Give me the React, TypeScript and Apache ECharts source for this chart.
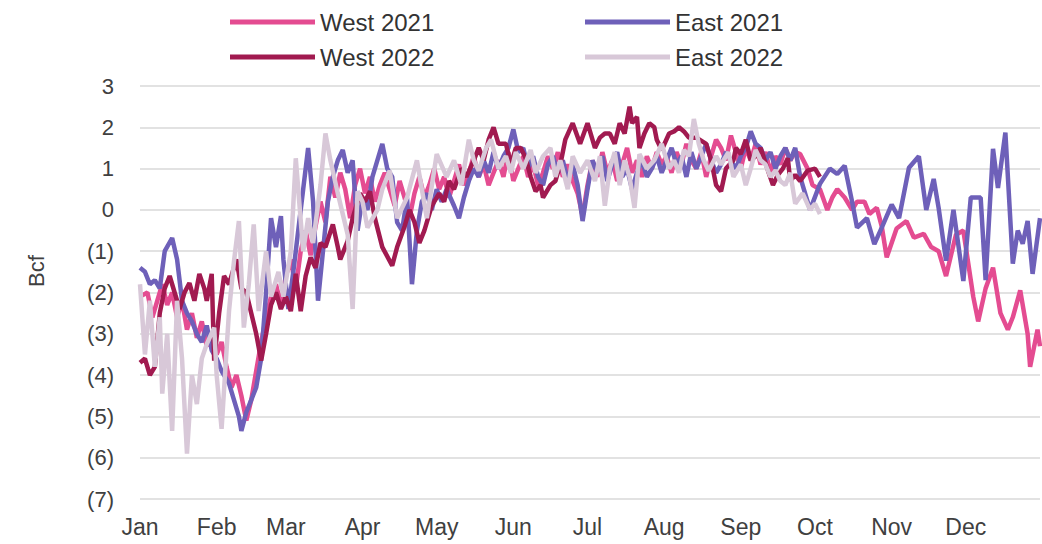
import React, { useEffect, useRef } from "react";
import * as echarts from "echarts";

const monthLabels = ["Jan", "Feb", "Mar", "Apr", "May", "Jun", "Jul", "Aug", "Sep", "Oct", "Nov", "Dec"];
const monthStarts = [0, 31, 59, 90, 120, 151, 181, 212, 243, 273, 304, 334];
const yTicks = [3, 2, 1, 0, -1, -2, -3, -4, -5, -6, -7];

// [day of year, Bcf]
const west2021: [number, number][] = [
  [0,-2.1],[3,-2.0],[5,-2.6],[7,-2.2],[9,-1.8],[11,-2.3],[13,-2.0],[15,-2.6],[17,-2.2],[19,-2.9],[21,-2.5],[23,-3.1],[25,-2.7],[27,-3.3],[29,-3.0],[31,-3.5],[33,-3.2],[35,-3.8],[37,-4.3],[39,-4.0],[41,-4.5],[43,-5.1],[45,-4.6],[47,-3.9],[49,-3.2],[51,-2.6],[53,-2.1],[55,-1.8],[57,-2.3],[59,-1.6],[61,-1.2],[63,-1.9],[65,-1.0],[67,-0.5],[69,-1.1],[71,-0.4],[73,0.2],[75,-0.3],[77,0.8],[79,0.3],[81,0.9],[83,0.5],[85,-0.2],[87,0.6],[89,1.0],[91,0.4],[93,0.8],[95,0.2],[97,0.6],[99,0.9],[101,0.5],[103,0.1],[105,0.7],[107,0.3],[109,-0.2],[111,0.4],[113,0.8],[115,0.3],[117,0.6],[119,1.0],[121,0.5],[123,0.8],[125,0.3],[127,0.7],[129,1.1],[131,0.6],[133,0.9],[135,1.3],[137,0.8],[139,1.1],[141,0.6],[143,0.9],[145,1.2],[147,0.8],[149,1.4],[151,0.7],[153,1.0],[155,1.3],[157,0.8],[159,1.1],[161,0.6],[163,0.9],[165,1.3],[167,1.0],[169,1.4],[171,0.8],[173,1.1],[175,0.7],[177,0.4],[179,-0.15],[181,0.6],[183,1.2],[185,0.8],[187,1.4],[189,0.9],[191,1.2],[193,0.7],[195,1.1],[197,1.5],[199,0.9],[201,1.2],[203,0.8],[205,1.3],[207,1.0],[209,1.4],[211,1.1],[213,1.3],[215,0.9],[217,1.4],[219,1.1],[221,1.6],[223,1.2],[225,1.0],[227,1.4],[229,0.8],[231,1.3],[233,1.7],[235,1.5],[237,1.2],[239,1.8],[241,1.4],[243,1.0],[245,1.5],[247,1.2],[249,1.6],[251,1.1],[253,1.4],[255,0.9],[257,1.3],[259,1.1],[261,1.5],[263,1.2],[265,1.4],[267,1.35],[270,1.0],[272,0.6],[275,0.5],[278,0],[280,0.3],[282,0.5],[285,0.3],[288,0],[290,0.2],[293,0.2],[295,-0.1],[298,0.05],[300,-0.4],[302,-1.15],[306,-0.45],[310,-0.27],[313,-0.67],[317,-0.58],[320,-0.9],[323,-1.0],[326,-1.6],[330,-0.6],[333,-0.5],[337,-2.1],[339,-2.7],[342,-1.9],[345,-1.4],[348,-2.5],[351,-2.9],[353,-2.6],[356,-1.95],[359,-3.0],[360,-3.8],[363,-2.9],[364,-3.3]
];

const east2021: [number, number][] = [
  [0,-1.4],[2,-1.5],[4,-1.8],[6,-1.7],[8,-1.9],[10,-1.0],[13,-0.68],[15,-1.2],[17,-2.2],[19,-2.5],[21,-2.7],[23,-3.0],[25,-3.2],[27,-2.8],[29,-3.4],[31,-3.6],[33,-3.9],[36,-4.2],[38,-4.6],[40,-5.0],[41,-5.35],[43,-4.9],[45,-4.6],[47,-4.3],[49,-3.6],[51,-2.0],[53,-0.2],[55,-0.9],[57,-0.15],[58,-1.2],[60,-2.4],[62,-1.5],[64,-0.5],[66,0.5],[68,1.5],[70,0.2],[72,-2.2],[74,-1.0],[76,0.2],[78,0.8],[80,1.2],[82,1.45],[84,0.9],[86,1.2],[88,-0.5],[90,0.3],[92,0.0],[94,0.8],[96,1.2],[98,1.6],[100,1.0],[102,0.8],[104,-0.3],[106,-0.5],[108,0.3],[110,-1.8],[112,-0.5],[114,0.2],[116,0.4],[118,0.0],[120,0.5],[122,0.2],[124,0.5],[127,0.1],[129,-0.2],[131,0.3],[133,0.7],[135,1.0],[137,0.8],[139,1.2],[141,0.9],[143,1.4],[145,1.0],[147,1.3],[149,1.5],[151,1.95],[153,1.4],[155,1.5],[157,1.0],[159,1.3],[161,0.8],[163,0.6],[165,1.1],[167,1.3],[169,0.9],[171,1.2],[173,0.7],[175,1.1],[177,0.6],[179,-0.27],[181,0.5],[183,1.2],[185,0.9],[187,1.3],[189,0.7],[191,1.1],[193,1.4],[195,0.8],[197,1.0],[199,0.5],[201,0.9],[203,1.2],[205,0.8],[207,1.0],[209,1.3],[211,0.9],[213,1.2],[215,1.5],[217,1.1],[219,1.3],[221,0.8],[223,1.4],[225,1.0],[227,1.3],[229,1.6],[231,1.2],[233,0.9],[235,1.1],[237,1.4],[239,1.2],[241,1.0],[243,1.3],[245,1.5],[247,1.9],[249,1.6],[251,1.5],[253,1.2],[255,1.4],[257,1.0],[259,1.3],[261,1.5],[263,1.2],[265,1.5],[267,0.8],[269,0.4],[271,0.0],[275,0.63],[279,1.0],[282,0.87],[285,1.07],[288,0.2],[290,-0.43],[294,-0.2],[297,-0.83],[300,-0.43],[304,0.13],[307,-0.2],[311,1.02],[315,1.3],[318,0],[321,0.75],[323,0.05],[326,-1.23],[329,0],[333,-1.72],[336,0.3],[340,0.3],[342,-1.7],[345,1.48],[347,0.53],[350,1.87],[353,-1.3],[355,-0.5],[357,-0.82],[359,-0.27],[361,-1.55],[364,-0.2]
];

const west2022: [number, number][] = [
  [0,-3.7],[2,-3.6],[4,-4.0],[6,-3.8],[8,-2.5],[10,-1.9],[12,-1.6],[14,-2.0],[16,-2.4],[18,-2.0],[20,-1.77],[22,-2.2],[24,-1.55],[26,-1.9],[27,-2.2],[29,-1.55],[30,-3.65],[32,-2.5],[34,-1.6],[36,-1.8],[39,-1.2],[41,-1.9],[43,-2.0],[45,-2.5],[47,-3.0],[49,-3.65],[51,-3.0],[53,-2.3],[55,-2.0],[57,-2.4],[59,-2.1],[61,-2.45],[63,-1.55],[65,-2.45],[67,-1.6],[69,-1.15],[71,-1.4],[73,-0.8],[75,-0.9],[78,-0.35],[80,-0.9],[81,-1.2],[84,-0.75],[86,-0.2],[89,0.4],[91,0.2],[93,0.45],[95,-0.2],[98,-0.9],[102,-1.35],[104,-0.9],[107,-0.4],[109,0],[111,-0.3],[113,-0.8],[115,-0.5],[118,0.1],[121,0.4],[123,0.2],[125,0.7],[127,0.5],[130,1.0],[132,0.8],[135,1.2],[137,1.5],[139,1.2],[141,1.7],[143,2.0],[145,1.6],[148,1.6],[150,1.1],[152,1.5],[154,1.5],[156,1.25],[158,0.8],[160,0.45],[162,0.6],[163,0.3],[166,0.6],[168,0.7],[170,1.1],[172,1.7],[175,2.1],[178,1.6],[181,2.1],[184,1.5],[186,1.75],[188,1.85],[190,1.85],[192,1.6],[194,2.1],[196,1.85],[198,2.5],[199,2.1],[201,2.25],[202,1.5],[204,1.85],[206,2.1],[208,2.0],[209,1.7],[211,1.45],[214,1.85],[216,1.9],[218,2.0],[220,1.9],[222,1.75],[225,1.75],[229,1.6],[231,1.2],[233,0.6],[235,0.45],[237,1.0],[240,1.2],[241,1.5],[243,1.35],[245,1.7],[247,1.2],[249,1.3],[251,1.5],[254,0.95],[256,0.6],[258,0.85],[260,1.0],[262,1.25],[263,0.7],[265,0.85],[267,0.7],[270,0.95],[273,1.0],[275,0.8]
];

const east2022: [number, number][] = [
  [0,-1.8],[2,-3.5],[4,-2.2],[6,-3.8],[8,-2.6],[9,-4.45],[11,-3.0],[13,-5.35],[15,-2.2],[17,-3.6],[19,-5.9],[21,-4.0],[23,-4.7],[25,-3.6],[27,-3.25],[30,-2.85],[31,-4.0],[33,-5.3],[36,-2.45],[38,-1.25],[40,-0.27],[42,-2.85],[44,-1.8],[46,-0.35],[48,-2.45],[51,-1.0],[53,-2.1],[56,-1.5],[58,-2.1],[61,-1.0],[63,1.25],[66,-1.0],[68,-0.2],[70,-0.8],[73,0.6],[75,1.85],[77,1.2],[80,0.4],[84,-0.6],[86,-2.4],[88,0.45],[90,0.2],[92,-0.43],[96,0],[98,0.5],[101,0.95],[104,-0.2],[108,0.3],[112,1.2],[116,-0.2],[120,1.35],[124,0.8],[127,1.2],[130,0.6],[133,1.7],[135,1.2],[137,0.95],[140,1.5],[142,1.7],[145,1.0],[148,1.3],[150,0.9],[152,1.4],[155,1.0],[158,1.45],[160,0.9],[163,1.3],[166,1.5],[168,0.8],[170,1.2],[173,0.5],[175,1.3],[178,0.9],[181,1.2],[184,0.7],[186,1.3],[188,0.1],[190,1.0],[192,1.4],[194,0.6],[196,1.2],[198,0.8],[200,0.05],[202,1.35],[205,1.0],[208,1.2],[211,1.6],[214,1.0],[216,1.2],[218,0.9],[220,1.45],[222,1.3],[224,2.2],[226,1.6],[228,1.2],[230,0.95],[233,1.3],[235,1.1],[238,1.4],[240,0.8],[243,1.1],[245,0.6],[247,1.0],[249,1.45],[251,1.2],[253,1.1],[255,0.8],[257,0.95],[259,0.7],[261,0.6],[263,0.9],[265,0.15],[268,0.4],[271,0],[273,0.15],[275,-0.1]
];

const seriesNames = ["West 2021", "East 2021", "West 2022", "East 2022"];
const seriesColors = ["#E44C91", "#6E60B9", "#A11A50", "#D8C8D8"];

const FONT = '"Liberation Sans", Arial, Helvetica, sans-serif';

export default function App() {
  const ref = useRef<HTMLDivElement>(null);
  useEffect(() => {
    if (!ref.current) return;
    const chart = echarts.init(ref.current, undefined, { renderer: "svg" });
    const days = Array.from({ length: 365 }, (_, i) => String(i));
    const datasets = [west2021, east2021, west2022, east2022];
    const legendPos = [
      { left: 225, top: 5 },
      { left: 580, top: 5 },
      { left: 225, top: 40 },
      { left: 580, top: 40 },
    ];
    chart.setOption({
      animation: false,
      backgroundColor: "#ffffff",
      grid: { left: 140, right: 2, top: 86, bottom: 45 },
      legend: seriesNames.map((n, i) => ({
        data: [n],
        left: legendPos[i].left,
        top: legendPos[i].top,
        icon: "rect",
        itemWidth: 85,
        itemHeight: 5,
        textStyle: { fontFamily: FONT, fontSize: 24, color: "#333333" },
        selectedMode: false,
      })),
      graphic: [
        {
          type: "text",
          x: 36,
          y: 271,
          rotation: Math.PI / 2,
          style: {
            text: "Bcf",
            align: "center",
            verticalAlign: "middle",
            fontFamily: FONT,
            fontSize: 22,
            fill: "#404040",
          },
        },
      ],
      xAxis: {
        type: "category",
        data: days,
        boundaryGap: false,
        axisLine: { show: false },
        axisTick: { show: false },
        splitLine: { show: false },
        axisLabel: {
          interval: (index: number) => monthStarts.includes(index),
          formatter: (_v: string, index: number) => monthLabels[monthStarts.indexOf(index)] ?? "",
          fontFamily: FONT,
          fontSize: 23,
          color: "#404040",
          margin: 16,
        },
      },
      yAxis: {
        type: "value",
        min: -7,
        max: 3,
        interval: 1,
        axisLine: { show: false },
        axisTick: { show: false },
        splitLine: { lineStyle: { color: "#D9D9D9", width: 1.5 } },
        axisLabel: {
          formatter: (v: number) => (yTicks.includes(v) ? (v < 0 ? `(${-v})` : `${v}`) : ""),
          fontFamily: FONT,
          fontSize: 22,
          color: "#404040",
          margin: 26,
        },
      },
      series: seriesNames.map((n, i) => ({
        name: n,
        type: "line",
        data: datasets[i],
        symbol: "none",
        showSymbol: false,
        lineStyle: { color: seriesColors[i], width: 4.5 },
        itemStyle: { color: seriesColors[i] },
      })),
    });
    return () => chart.dispose();
  }, []);
  return (
    <div
      ref={ref}
      style={{ position: "absolute", left: 0, top: 0, width: 1042, height: 544 }}
    />
  );
}
